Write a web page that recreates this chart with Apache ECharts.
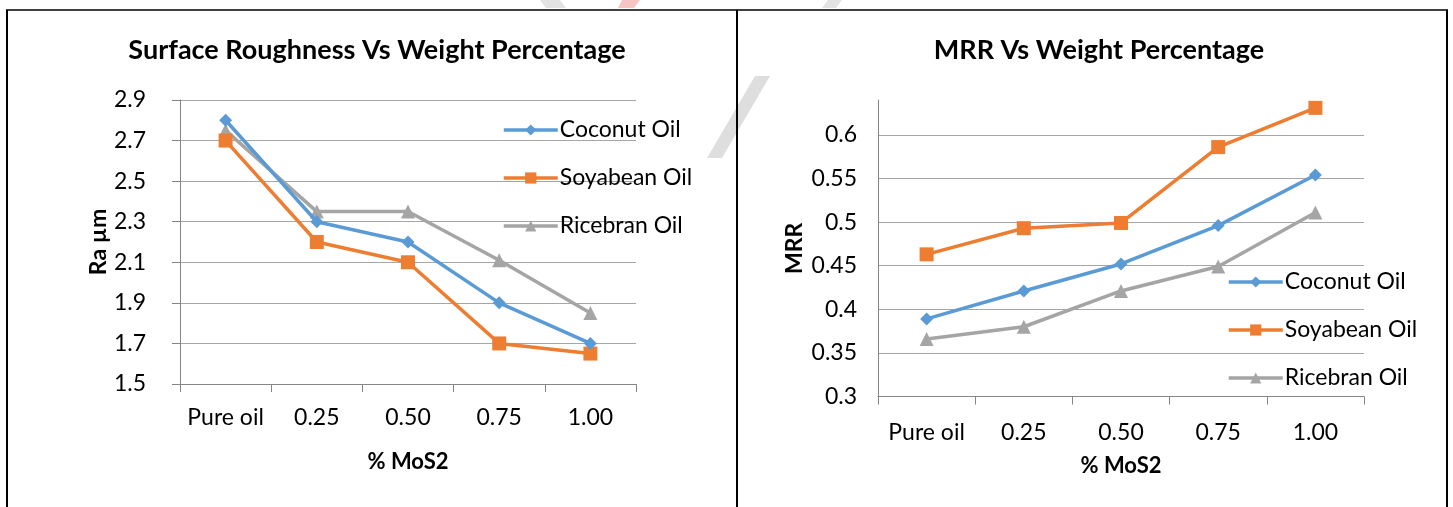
<!DOCTYPE html>
<html><head><meta charset="utf-8">
<script src="https://cdn.jsdelivr.net/npm/echarts@6/dist/echarts.min.js"></script>
<style>html,body{margin:0;padding:0;background:#fff}#c{width:1453px;height:507px}</style>
</head><body><div id="c"></div>
<script>
var categories = ['Pure oil', '0.25', '0.50', '0.75', '1.00'];
var seriesNames = ['Coconut Oil', 'Soyabean Oil', 'Ricebran Oil'];
var raCoconut = [2.8, 2.3, 2.2, 1.9, 1.7];
var raSoyabean = [2.7, 2.2, 2.1, 1.7, 1.65];
var raRicebran = [2.75, 2.35, 2.35, 2.11, 1.85];
var mrrCoconut = [0.389, 0.421, 0.452, 0.496, 0.554];
var mrrSoyabean = [0.463, 0.493, 0.499, 0.586, 0.631];
var mrrRicebran = [0.366, 0.380, 0.421, 0.449, 0.511];

var FONT = 'Lato';
var colors = ['#5b9bd5', '#ed7d31', '#a5a5a5'];
var symbols = ['diamond', 'rect', 'triangle'];
var symSizes = [13, 14, 14];

function mkSeries(name, idx, data, axisIdx) {
  return {
    name: name, type: 'line', xAxisIndex: axisIdx, yAxisIndex: axisIdx,
    data: data, symbol: symbols[idx], symbolSize: symSizes[idx],
    lineStyle: {color: colors[idx], width: 3.5},
    itemStyle: {color: colors[idx]},
    animation: false, z: 3 - idx + 2
  };
}

function xAx(gi, margin, nameGap) {
  return {
    type: 'category', gridIndex: gi, data: categories, boundaryGap: true,
    name: '% MoS2', nameLocation: 'middle', nameGap: nameGap,
    nameTextStyle: {fontFamily: FONT, fontWeight: 'bold', fontSize: 22, color: '#000'},
    axisLine: {lineStyle: {color: '#868686', width: 1}},
    axisTick: {show: true, interval: 0, alignWithLabel: false, length: 8, lineStyle: {color: '#868686'}},
    axisLabel: {fontFamily: FONT, fontSize: 23, color: '#000', margin: margin, interval: 0, hideOverlap: false},
    splitLine: {show: false}
  };
}

function legendCfg(left, top) {
  return {
    data: seriesNames.map(function (n, i) { return {name: n, itemStyle: {color: colors[i]}, lineStyle: {color: colors[i], width: 3.5}}; }),
    orient: 'vertical', left: left, top: top, itemGap: 24, itemWidth: 54, itemHeight: 14,
    textStyle: {fontFamily: FONT, fontSize: 23, lineHeight: 24, color: '#000', padding: [0, 0, 0, -3]}
  };
}

var chart = echarts.init(document.getElementById('c'));
chart.setOption({
  animation: false,
  title: [
    {text: 'Surface Roughness Vs Weight Percentage', left: 372, top: 32, textAlign: 'center',
     textStyle: {fontFamily: FONT, fontWeight: 'bold', fontSize: 27, color: '#000'}},
    {text: 'MRR Vs Weight Percentage', left: 1094, top: 32, textAlign: 'center',
     textStyle: {fontFamily: FONT, fontWeight: 'bold', fontSize: 27, color: '#000'}}
  ],
  legend: [legendCfg(497, 113), legendCfg(1222, 265)],
  grid: [
    {left: 180, top: 100, width: 456, height: 284},
    {left: 878, top: 100, width: 486, height: 296.5}
  ],
  xAxis: [xAx(0, 22, 67), xAx(1, 25, 58)],
  yAxis: [
    {type: 'value', gridIndex: 0, min: 1.5, max: 2.9, interval: 0.2,
     name: 'Ra µm', nameLocation: 'middle', nameGap: 66, nameRotate: 90,
     nameTextStyle: {fontFamily: FONT, fontWeight: 'bold', fontSize: 23, color: '#000'},
     axisLine: {show: true, lineStyle: {color: '#868686'}},
     axisTick: {show: true, length: 8, lineStyle: {color: '#868686'}},
     axisLabel: {fontFamily: FONT, fontSize: 23, color: '#000', margin: 34,
                 formatter: function (v) { return v.toFixed(1); }},
     splitLine: {show: true, lineStyle: {color: '#a6a6a6', width: 1}}},
    {type: 'value', gridIndex: 1, min: 0.3, max: 0.64, interval: 0.05,
     name: 'MRR', nameLocation: 'middle', nameGap: 72, nameRotate: 90,
     nameTextStyle: {fontFamily: FONT, fontWeight: 'bold', fontSize: 23, color: '#000'},
     axisLine: {show: true, lineStyle: {color: '#868686'}},
     axisTick: {show: false},
     axisLabel: {fontFamily: FONT, fontSize: 23, color: '#000', margin: 21, showMaxLabel: false,
                 formatter: function (v) { return String(+v.toFixed(2)); }},
     splitLine: {show: true, showMaxLine: false, lineStyle: {color: '#a6a6a6', width: 1}}}
  ],
  series: [
    mkSeries(seriesNames[0], 0, raCoconut, 0),
    mkSeries(seriesNames[1], 1, raSoyabean, 0),
    mkSeries(seriesNames[2], 2, raRicebran, 0),
    mkSeries(seriesNames[0], 0, mrrCoconut, 1),
    mkSeries(seriesNames[1], 1, mrrSoyabean, 1),
    mkSeries(seriesNames[2], 2, mrrRicebran, 1)
  ],
  graphic: [
    {type: 'polygon', z: 0, shape: {points: [[755, 76], [770, 76], [722, 158], [707, 158]]},
     style: {fill: '#dedede'}},
    {type: 'polygon', z: 0, shape: {points: [[540, 0], [560, 0], [566, 8], [546, 8]]}, style: {fill: '#e3e3e3'}},
    {type: 'polygon', z: 0, shape: {points: [[622, 0], [640, 0], [634, 8], [618, 8]]}, style: {fill: '#f7c4c4'}},
    {type: 'polygon', z: 0, shape: {points: [[828, 0], [842, 0], [836, 8], [822, 8]]}, style: {fill: '#e3e3e3'}},
    {type: 'line', z: 10, shape: {x1: 6, y1: 10, x2: 1448, y2: 10}, style: {stroke: '#000', lineWidth: 1.5}},
    {type: 'line', z: 10, shape: {x1: 7, y1: 10, x2: 7, y2: 507}, style: {stroke: '#000', lineWidth: 2}},
    {type: 'line', z: 10, shape: {x1: 737, y1: 10, x2: 737, y2: 507}, style: {stroke: '#000', lineWidth: 2}},
    {type: 'line', z: 10, shape: {x1: 1447, y1: 10, x2: 1447, y2: 507}, style: {stroke: '#000', lineWidth: 2}}
  ]
});
</script></body></html>
